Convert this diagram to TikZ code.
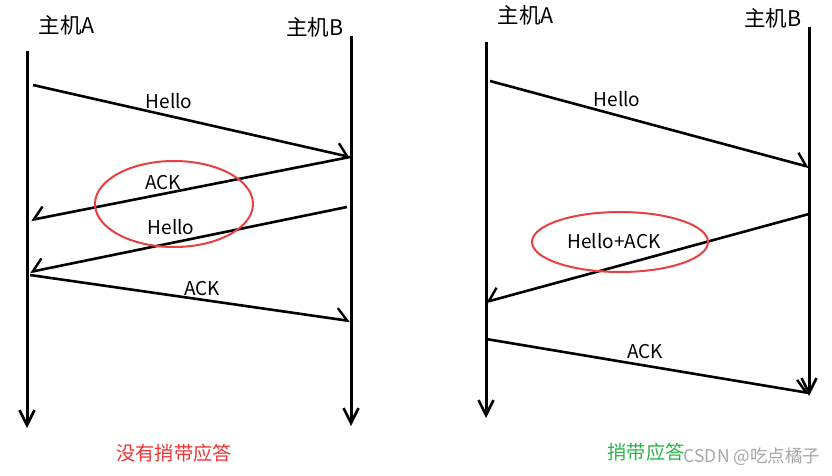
\documentclass[tikz,border=0pt]{standalone}
\usepackage{fontspec}
\setmainfont{Noto Sans CJK SC}
\usetikzlibrary{arrows.meta}
\definecolor{ringred}{RGB}{232,64,64}
\definecolor{capgreen}{RGB}{40,180,70}
\definecolor{capred}{RGB}{240,50,50}
\begin{document}
\begin{tikzpicture}[x=1pt,y=-1pt,
  life/.style={line width=3pt,-{Straight Barb[length=15pt,width=15pt,line width=2.6pt]}},
  msgr/.style={line width=2.6pt,-{Straight Barb[harpoon,length=11pt,width=22pt,line width=2.4pt]}},
  msgl/.style={line width=2.6pt,-{Straight Barb[harpoon,swap,length=11pt,width=22pt,line width=2.4pt]}},
  lbl/.style={inner sep=0pt,font=\fontsize{19}{21}\selectfont},
  host/.style={inner sep=0pt,font=\fontsize{21.5}{24}\selectfont},
  captext/.style={inner sep=0pt,font=\fontsize{19.3}{21}\selectfont},
  ring/.style={draw=ringred,line width=2pt}]
\useasboundingbox (0,0) rectangle (832,476);
% ---------- left diagram ----------
\coordinate (LAt) at (27,51);  \coordinate (LAb) at (27,428);
\coordinate (LBt) at (351,36); \coordinate (LBb) at (351,426);
\draw[life] (LAt) -- (LAb);
\draw[life] (LBt) -- (LBb);
\node[host] (LA) at (67,25) {主机A};
\node[host] (LB) at (315,27) {主机B};
\coordinate (l1s) at (33,85);   \coordinate (l1e) at (350,157);
\coordinate (l2s) at (350,157); \coordinate (l2e) at (31,220);
\coordinate (l3s) at (347,207); \coordinate (l3e) at (30,272);
\coordinate (l4s) at (30,275);  \coordinate (l4e) at (350,321);
\draw[msgr] (l1s) -- (l1e);
\draw[msgl] (l2s) -- (l2e);
\draw[msgl] (l3s) -- (l3e);
\draw[msgr] (l4s) -- (l4e);
\node[lbl] (lh1) at (169,101) {Hello};
\node[lbl] (la1) at (163,183) {ACK};
\node[lbl] (lh2) at (171,227) {Hello};
\node[lbl] (la2) at (202,289) {ACK};
\draw[ring] (174,204) ellipse [x radius=79, y radius=43];
\node[captext,text=capred] (lcap) at (174,453) {没有捎带应答};
% ---------- right diagram ----------
\coordinate (RAt) at (486,42);  \coordinate (RAb) at (486,418);
\coordinate (RBt) at (809,27);  \coordinate (RBb) at (809,396);
\draw[life] (RAt) -- (RAb);
\draw[life] (RBt) -- (RBb);
\node[host] (RA) at (526,15) {主机A};
\node[host] (RB) at (773,18) {主机B};
\coordinate (r1s) at (490,81);  \coordinate (r1e) at (809,167);
\coordinate (r2s) at (809,214); \coordinate (r2e) at (486,302);
\coordinate (r3s) at (486,339); \coordinate (r3e) at (809,393);
\draw[msgr] (r1s) -- (r1e);
\draw[msgl] (r2s) -- (r2e);
\draw[msgr] (r3s) -- (r3e);
\node[lbl] (rh1) at (617,99) {Hello};
\node[lbl] (rha) at (614,241) {Hello+ACK};
\node[lbl] (ra1) at (645,352) {ACK};
\draw[ring] (620,242) ellipse [x radius=88, y radius=30];
\node[captext,text=capgreen] (rcap) at (646,452) {捎带应答};
\node[inner sep=0pt,text=gray!70,font=\fontsize{17.5}{19}\selectfont] (wm) at (752,457) {CSDN @吃点橘子};
\end{tikzpicture}
\end{document}
